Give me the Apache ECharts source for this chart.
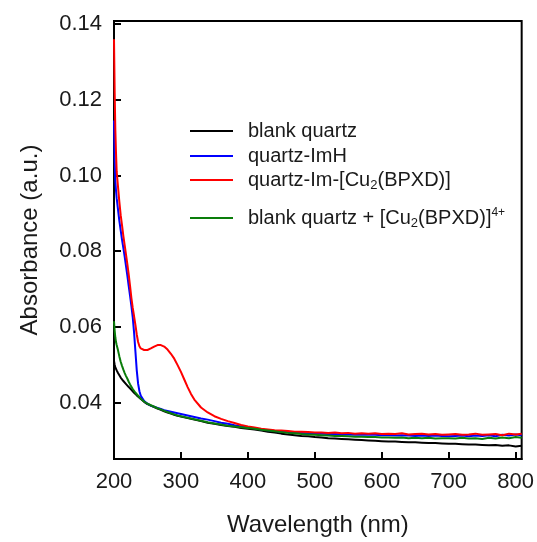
<!DOCTYPE html>
<html>
<head>
<meta charset="utf-8">
<script src="https://cdn.jsdelivr.net/npm/echarts@6/dist/echarts.min.js"></script>
<style>
html,body{margin:0;padding:0;background:#fff;}
#chart{width:537px;height:542px;}
</style>
</head>
<body>
<div id="chart"></div>
<script>
const wavelength = [200,201,202,203,204,206,208,210,212,214,216,218,220,222,224,226,228,230,232,234,236,238,240,
  245,250,255,260,265,270,275,280,285,290,295,300,305,310,315,320,330,340,350,360,370,380,390,400,
  410,420,430,440,450,460,470,480,490,500,510,520,530,540,550,560,570,580,590,600,
  610,620,630,640,650,660,670,680,690,700,710,720,730,740,750,760,770,780,790,800,809];

const blankQuartz = [0.0510,0.0500,0.0493,0.0489,0.0485,0.0478,0.0472,0.0466,0.0461,0.0457,0.0453,0.0449,0.0445,0.0441,0.0438,0.0434,0.0430,0.0426,0.0422,0.0419,0.0416,0.0413,0.0410,
  0.0402,0.0396,0.0392,0.0388,0.0384,0.0381,0.0377,0.0374,0.0371,0.0368,0.0365,0.0363,0.0361,0.0359,0.0357,0.0355,0.0351,0.0347,0.0344,0.0341,0.0338,0.0336,0.0333,0.0331,
  0.0329,0.0326,0.0323,0.0321,0.0318,0.0316,0.0314,0.0312,0.0311,0.0309,0.0308,0.0306,0.0305,0.0304,0.0303,0.0302,0.0301,0.0300,0.0299,0.0298,
  0.0297,0.0297,0.0296,0.0295,0.0295,0.0294,0.0293,0.0293,0.0292,0.0291,0.0291,0.0290,0.0289,0.0289,0.0288,0.0287,0.0288,0.0286,0.0287,0.0284,0.0286];

const quartzImH = [0.1145,0.1040,0.0985,0.0960,0.0940,0.0910,0.0880,0.0855,0.0830,0.0808,0.0785,0.0760,0.0735,0.0708,0.0682,0.0655,0.0625,0.0585,0.0535,0.0485,0.0450,0.0430,0.0418,
  0.0404,0.0397,0.0392,0.0389,0.0386,0.0383,0.0380,0.0378,0.0376,0.0374,0.0372,0.0370,0.0368,0.0366,0.0364,0.0362,0.0358,0.0355,0.0351,0.0347,0.0344,0.0340,0.0337,0.0334,
  0.0332,0.0329,0.0327,0.0325,0.0323,0.0322,0.0321,0.0320,0.0319,0.0318,0.0318,0.0317,0.0317,0.0316,0.0316,0.0315,0.0316,0.0315,0.0315,0.0314,
  0.0314,0.0313,0.0314,0.0313,0.0312,0.0313,0.0312,0.0313,0.0312,0.0311,0.0312,0.0313,0.0311,0.0313,0.0312,0.0314,0.0311,0.0315,0.0313,0.0316,0.0314];

const quartzImCu = [0.1360,0.1220,0.1120,0.1060,0.1010,0.0970,0.0930,0.0895,0.0868,0.0840,0.0815,0.0790,0.0765,0.0738,0.0708,0.0676,0.0650,0.0628,0.0605,0.0580,0.0560,0.0549,0.0543,
  0.0539,0.0539,0.0543,0.0548,0.0552,0.0552,0.0548,0.0540,0.0529,0.0516,0.0499,0.0481,0.0461,0.0441,0.0423,0.0408,0.0387,0.0374,0.0364,0.0357,0.0351,0.0346,0.0341,0.0337,
  0.0334,0.0331,0.0329,0.0327,0.0326,0.0325,0.0323,0.0323,0.0322,0.0321,0.0321,0.0320,0.0321,0.0319,0.0320,0.0318,0.0319,0.0318,0.0319,0.0317,
  0.0318,0.0317,0.0319,0.0316,0.0317,0.0318,0.0316,0.0317,0.0315,0.0316,0.0317,0.0315,0.0316,0.0318,0.0315,0.0316,0.0317,0.0314,0.0318,0.0316,0.0318];

const blankQuartzCu = [0.0615,0.0590,0.0572,0.0560,0.0552,0.0538,0.0522,0.0508,0.0497,0.0487,0.0478,0.0470,0.0463,0.0455,0.0448,0.0442,0.0436,0.0431,0.0426,0.0422,0.0418,0.0414,0.0410,
  0.0403,0.0397,0.0393,0.0389,0.0385,0.0382,0.0378,0.0375,0.0372,0.0369,0.0366,0.0364,0.0362,0.0360,0.0358,0.0356,0.0352,0.0348,0.0345,0.0342,0.0339,0.0337,0.0335,0.0333,
  0.0331,0.0328,0.0326,0.0324,0.0322,0.0320,0.0319,0.0317,0.0316,0.0315,0.0314,0.0313,0.0312,0.0312,0.0311,0.0310,0.0310,0.0309,0.0309,0.0308,
  0.0308,0.0307,0.0308,0.0306,0.0307,0.0306,0.0307,0.0305,0.0306,0.0306,0.0305,0.0307,0.0305,0.0306,0.0304,0.0307,0.0305,0.0308,0.0306,0.0309,0.0307];

const seriesNames = ['blank quartz','quartz-ImH','quartz-Im-[Cu2(BPXD)]','blank quartz + [Cu2(BPXD)]4+'];
const legendLabels = ['blank quartz','quartz-ImH','quartz-Im-[Cu{sub|2}(BPXD)]','blank quartz + [Cu{sub|2}(BPXD)]{sup|4+}'];
const seriesColors = ['#000000','#0000ff','#ff0000','#0a7d0a'];
const seriesValues = [blankQuartz, quartzImH, quartzImCu, blankQuartzCu];

const yTicks = [0.04,0.06,0.08,0.10,0.12,0.14];
const xTicks = [200,300,400,500,600,700,800];

const FONT = "'Liberation Sans', Arial, sans-serif";
const chart = echarts.init(document.getElementById('chart'), null, {renderer:'canvas'});

const legendTops = [121, 146, 170, 207];
const legends = seriesNames.map((n,i)=>({
  data:[n],
  left:190, top:legendTops[i], padding:0,
  icon:'rect', itemWidth:43, itemHeight:2,
  selectedMode:false,
  formatter: ()=>legendLabels[i],
  textStyle:{
    fontFamily:FONT, fontSize:20, color:'#1a1a1a', padding:[0,0,0,10],
    rich:{
      sub:{fontFamily:FONT, fontSize:13, color:'#1a1a1a', padding:[10,0,0,0]},
      sup:{fontFamily:FONT, fontSize:12, color:'#1a1a1a', padding:[0,0,10,0]}
    }
  }
}));

chart.setOption({
  animation:false,
  backgroundColor:'#fff',
  grid:{left:114, right:14, top:21, bottom:83, show:true, borderColor:'#000', borderWidth:2, containLabel:false},
  legend: legends,
  xAxis:{
    type:'value', min:200, max:809, interval:100,
    name:'Wavelength (nm)', nameLocation:'middle', nameGap:54,
    nameTextStyle:{fontFamily:FONT, fontSize:24, color:'#1a1a1a'},
    axisLine:{show:true, lineStyle:{color:'#000', width:2}},
    axisTick:{show:true, inside:true, length:7, lineStyle:{color:'#000', width:2}, customValues:xTicks},
    axisLabel:{fontFamily:FONT, fontSize:22, color:'#1a1a1a', margin:12, customValues:xTicks},
    splitLine:{show:false}
  },
  yAxis:{
    type:'value', min:0.0251, max:0.1408,
    name:'Absorbance (a.u.)', nameLocation:'middle', nameGap:72, nameRotate:90,
    nameTextStyle:{fontFamily:FONT, fontSize:24, color:'#1a1a1a'},
    axisLine:{show:true, lineStyle:{color:'#000', width:2}},
    axisTick:{show:true, inside:true, length:7, lineStyle:{color:'#000', width:2}, customValues:yTicks},
    axisLabel:{fontFamily:FONT, fontSize:22, color:'#1a1a1a', margin:12, customValues:yTicks,
      formatter:(v)=>v.toFixed(2)},
    splitLine:{show:false}
  },
  series: seriesNames.map((n,i)=>({
    name:n, type:'line', showSymbol:false, symbol:'none',
    data: wavelength.map((w,k)=>[w, seriesValues[i][k]]),
    lineStyle:{color:seriesColors[i], width:2},
    itemStyle:{color:seriesColors[i]},
    z: 2+i
  }))
});
</script>
</body>
</html>
